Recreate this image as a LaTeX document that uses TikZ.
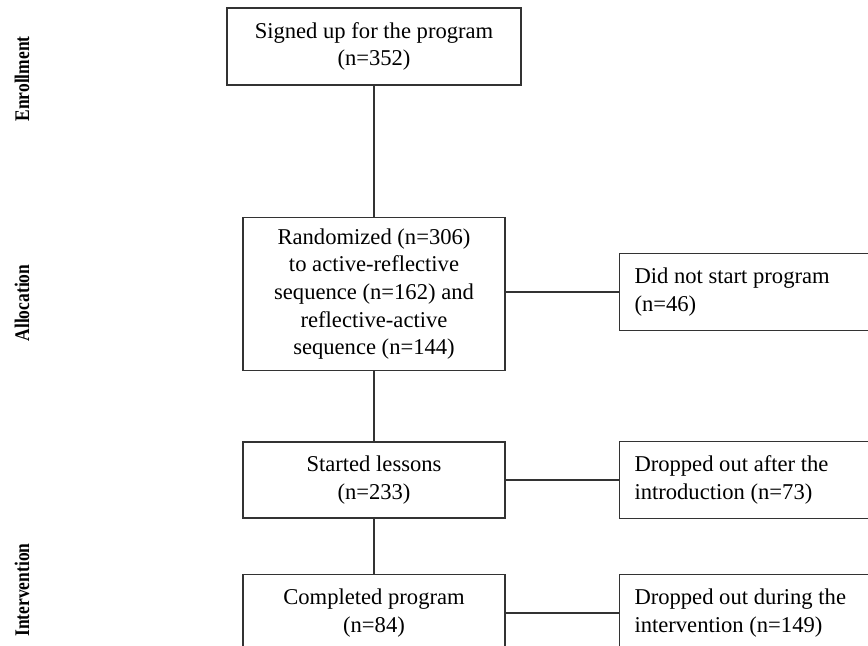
\documentclass[tikz,border=0pt]{standalone}
\usepackage{fontspec}
\setmainfont{Liberation Serif}
\usetikzlibrary{positioning}

\begin{document}
\begin{tikzpicture}[
  flowbox/.style={draw=black!80, line width=0.75pt, minimum width=131pt, align=center, inner sep=0pt, font=\fontsize{11.3}{13.8}\selectfont},
  sidebox/.style={draw=black!80, line width=0.75pt, minimum width=131pt, minimum height=38.5pt, text width=116pt, inner xsep=7.5pt, inner ysep=0pt, align=flush left, font=\fontsize{11.3}{13.8}\selectfont},
  phase/.style={rotate=90, font=\fontsize{10.4}{11}\selectfont\bfseries},
  link/.style={black!80, line width=0.75pt},
  node distance=27.5pt and 56.5pt
]
\clip (0,0) rectangle (434pt,-323pt);

% main column
\node[flowbox, minimum width=147pt, minimum height=38.5pt] (signed) at (187pt,-23.25pt) {Signed up for the program\\ (n=352)};
\node[flowbox, minimum height=76.5pt, below=65.5pt of signed] (random) {Randomized (n=306)\\ to active-reflective\\ sequence (n=162) and\\ reflective-active\\ sequence (n=144)};
\node[flowbox, minimum height=38pt, below=35pt of random] (started) {Started lessons\\ (n=233)};
\node[flowbox, minimum height=38.5pt, below=of started] (completed) {Completed program\\ (n=84)};

% exclusions
\node[sidebox, right=of random, yshift=1pt] (nostart) {Did not start program\\ (n=46)};
\node[sidebox, right=of started] (dropintro) {Dropped out after the\\ introduction (n=73)};
\node[sidebox, right=of completed] (dropinter) {Dropped out during the\\ intervention (n=149)};

\draw[link] (signed) -- (random);
\draw[link] (random) -- (started);
\draw[link] (started) -- (completed);
\draw[link] (random.east |- nostart.west) -- (nostart.west);
\draw[link] (started) -- (dropintro);
\draw[link] (completed) -- (dropinter);

% phases
\node[phase] (enroll) at (11pt,-39.5pt) {\scalebox{0.84}[1]{Enrollment}};
\node[phase] (alloc) at (11pt,-151.5pt) {\scalebox{0.84}[1]{Allocation}};
\node[phase] (interv) at (11pt,-295pt) {\scalebox{0.84}[1]{Intervention}};
\end{tikzpicture}
\end{document}
